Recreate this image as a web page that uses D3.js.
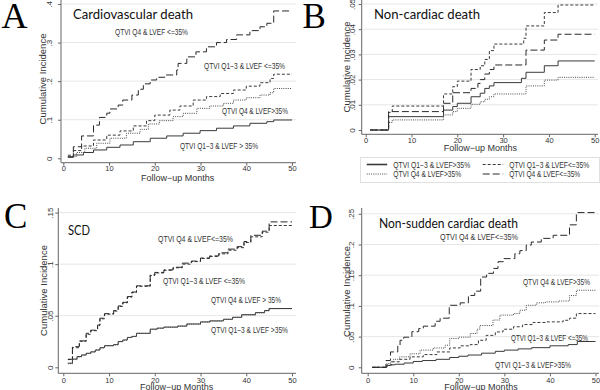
<!DOCTYPE html>
<html>
<head>
<meta charset="utf-8">
<script src="https://cdn.jsdelivr.net/npm/d3@7"></script>
<style>
  body { margin: 0; background: #fff; }
  svg { display: block; }
</style>
</head>
<body>
<script>
// ---- data: [month, cumulative incidence] step points ----
const monthTicks = [0, 10, 20, 30, 40, 50];

const groupNames = ['QTVI Q1\u22123 & LVEF>35%', 'QTVI Q1\u22123 & LVEF<=35%', 'QTVI Q4 & LVEF>35%', 'QTVI Q4 & LVEF<=35%'];

// A: cardiovascular death
const cvdTicks = [0, .1, .2, .3, .4];
const cvdTickLabels = ['0', '.1', '.2', '.3', '.4'];
const cvdQ13High = [[1,.0026],[2.2,.0086],[4.4,.015],[6.6,.0216],[9.5,.0285],[12.4,.0345],[15.3,.043],[19,.052],[22.6,.058],[26.2,.065],[29.9,.0717],[33.5,.078],[37.2,.084],[40.8,.0907],[44.5,.095],[46,.0993],[50,.0993]];
const cvdQ13Low = [[1,.008],[2.2,.02],[4,.032],[6.6,.0475],[9.5,.06],[12.4,.071],[15.3,.084],[18.2,.0976],[20,.112],[23.3,.125],[25.5,.1356],[28.4,.151],[31.3,.16],[34.3,.168],[37.2,.177],[40,.187],[43,.196],[45.2,.207],[46,.218],[50,.218]];
const cvdQ4High = [[1,.004],[2.9,.015],[4.7,.026],[7.3,.039],[10.2,.052],[13.8,.065],[16.8,.075],[18.6,.089],[21,.0976],[24,.108],[26.2,.1166],[29.2,.1295],[32,.1356],[35,.1425],[37.2,.151],[40,.157],[43,.164],[45.2,.17],[46,.181],[50,.181]];
const cvdQ4Low = [[1,.004],[2.2,.03],[4,.058],[6.6,.086],[7.9,.106],[9.5,.117],[10.2,.128],[12,.138],[13,.151],[15,.164],[16.4,.179],[17.5,.193],[19,.203],[20.4,.21],[22.2,.216],[24.8,.229],[25.1,.246],[27,.263],[29,.276],[31.3,.289],[33.5,.3],[35.7,.308],[37.9,.32],[40.8,.331],[43,.341],[44.5,.35],[46,.382],[50,.382]];
const cvdLabels = ['QTVI Q1\u22123 & LVEF > 35%', 'QTVI Q1\u22123 & LVEF <=35%', 'QTVI Q4 & LVEF>35%', 'QTVI Q4 & LVEF <=35%'];

// B: non-cardiac death
const ncdTicks = [0, .01, .02, .03, .04, .05];
const ncdTickLabels = ['0', '.01', '.02', '.03', '.04', '.05'];
const ncdQ13High = [[1,0],[5,.0053],[17,.0079],[19,.0093],[20,.0106],[23,.0132],[25,.0146],[26,.0165],[27,.0175],[28,.0188],[34,.0205],[35,.0229],[39,.0255],[42,.0274],[50,.0274]];
const ncdQ13Low = [[1,0],[5,.007],[5.8,.0095],[17,.0143],[19,.0172],[20,.0194],[23,.024],[25,.0255],[26,.028],[27,.0315],[28,.0341],[34.5,.0364],[35,.0413],[39,.0466],[42,.0496],[50,.0496]];
const ncdQ4High = [[1,0],[5,.003],[5.8,.004],[17,.006],[19,.0073],[20,.0086],[23,.0102],[25,.0112],[26,.0122],[27,.0132],[28,.0143],[35,.0175],[39,.0198],[42,.0209],[50,.0209]];
const ncdQ4Low = [[1,0],[5,.0073],[17,.0106],[19,.0148],[23,.0165],[24.5,.0185],[25,.02],[26,.0222],[27,.024],[28,.0258],[35,.0317],[39,.0357],[42,.038],[50,.038]];

// C: sudden cardiac death
const scdTicks = [0, .05, .1, .15];
const scdTickLabels = ['0', '.05', '.1', '.15'];
const scdQ13High = [[1,.004],[2,.008],[3,.0104],[4,.012],[5,.0136],[6,.015],[7,.0168],[8,.019],[9,.021],[11,.022],[12,.025],[13,.0265],[14,.029],[15,.03],[16,.033],[19,.037],[20.5,.038],[22,.039],[25,.04],[27,.042],[30,.044],[32,.045],[35,.0466],[37,.0485],[39,.051],[42,.053],[44,.055],[45,.057],[50,.057]];
const scdQ13Low = [[1,.0075],[2,.019],[3.5,.0252],[5,.032],[6,.0355],[7.5,.0405],[8,.047],[9,.0515],[11,.0545],[12,.059],[13,.0625],[14,.068],[15,.0725],[16,.0785],[19,.089],[20,.0915],[22,.094],[24,.0965],[26,.1],[28,.1025],[30,.1055],[32,.1075],[34,.11],[36,.1135],[38,.116],[39.5,.121],[41,.1265],[43.5,.131],[45,.1375],[50,.1375]];
const scdQ4High = [[1,.0035],[2,.0075],[3,.01],[4,.0118],[5,.0134],[6,.0148],[7,.0166],[8,.0188],[9,.0208],[11,.0218],[12,.0248],[13,.0262],[14,.0288],[15,.0298],[16,.0328],[19,.0368],[20.5,.0378],[22,.0388],[25,.0398],[27,.0418],[30,.0438],[32,.0448],[35,.0464],[37,.0483],[39,.0508],[42,.0528],[44,.0548],[45,.0568],[50,.0568]];
const scdQ4Low = [[1,.0078],[2,.02],[3.5,.0256],[5,.033],[6,.036],[7.5,.041],[8,.0476],[9,.052],[11,.055],[12,.0595],[13,.063],[14,.0686],[15,.073],[16,.079],[19,.0896],[20,.092],[22,.0945],[24,.097],[26,.101],[28,.103],[30,.106],[32,.108],[34,.111],[36,.1146],[38,.117],[39.5,.122],[41,.128],[43.5,.132],[45,.141],[50,.141]];
const scdLabels = ['QTVI Q1\u22123 & LVEF >35%', 'QTVI Q1\u22123 & LVEF <=35%', 'QTVI Q4 & LVEF > 35%', 'QTVI Q4 & LVEF<=35%'];

// D: non-sudden cardiac death
const nscdTicks = [0, .05, .1, .15, .2, .25];
const nscdTickLabels = ['0', '.05', '.1', '.15', '.2', '.25'];
const nscdQ13High = [[1,0],[4.2,.003],[5,.004],[6,.005],[8,.007],[10,.0095],[12,.011],[15,.013],[18,.016],[20,.018],[22,.02],[25,.023],[28,.026],[30,.028],[33,.03],[36,.032],[40,.035],[44,.037],[46,.042],[50,.042]];
const nscdQ13Low = [[1,0],[4.2,.004],[5.3,.009],[7,.013],[9.3,.017],[12.2,.0207],[15.2,.025],[18,.0315],[20.3,.035],[22.5,.037],[24.3,.044],[26,.052],[28,.0576],[29.7,.062],[32,.066],[34,.0696],[36.3,.073],[39,.074],[42.9,.0766],[44.3,.08],[45.8,.0875],[50,.0875]];
const nscdQ4High = [[1,0],[4.2,.006],[5,.009],[5.7,.013],[7,.017],[9.3,.022],[11.5,.028],[14.4,.0315],[17,.036],[18,.047],[20,.049],[22.5,.055],[24,.062],[24.6,.068],[27.5,.077],[29,.085],[32,.0875],[33.4,.093],[34.8,.101],[37,.105],[39,.1065],[42,.108],[44.3,.117],[45.8,.1255],[50,.1255]];
const nscdQ4Low = [[1,0],[4,.011],[5,.025],[6.6,.036],[7.1,.044],[7.9,.049],[9.7,.058],[11.2,.063],[12.2,.067],[14.8,.075],[15.9,.08],[17.9,.101],[20.3,.105],[22.1,.117],[23.5,.124],[24.8,.147],[26.1,.153],[27.6,.161],[28.6,.172],[29.9,.177],[32.3,.185],[33.4,.19],[34.8,.199],[35.9,.204],[38.1,.21],[40.7,.215],[44.3,.232],[45.8,.252],[50,.252]];
const nscdLabels = ['QTVI Q1\u22123 & LVEF>35%', 'QTVI Q1\u22123 & LVEF <=35%', 'QTVI Q4 & LVEF>35%', 'QTVI Q4 & LVEF<=35%'];

// ---- drawing ----
const smallFont = "'Liberation Sans Narrow','Arial Narrow','Liberation Sans',Arial,sans-serif";

// same order as groupNames
const lineStyles = [
    { dash: null,    color: '#3a3a3a' },
    { dash: '3,2',   color: '#3a3a3a' },
    { dash: '1,1.2', color: '#4a4a4a' },
    { dash: '7,3',   color: '#2a2a2a' }
];

const svg = d3.select('body').append('svg')
    .attr('width', 600)
    .attr('height', 390);

function drawPanel(p) {
    const g = svg.append('g');

    const x = d3.scaleLinear().domain([0, 50]).range(p.xRange);
    const y = d3.scaleLinear().domain([0, p.yMax]).range(p.yRange);

    // grid lines
    g.selectAll('line.grid')
        .data(p.yTicks.filter(t => t > 0))
        .enter()
        .append('line')
        .attr('class', 'grid')
        .attr('x1', p.axisX + 1)
        .attr('x2', p.right)
        .attr('y1', d => y(d))
        .attr('y2', d => y(d))
        .attr('stroke', '#e6e6e6')
        .attr('stroke-width', 1);

    // axis lines sit a bit outside the data range (Stata style)
    g.append('line')
        .attr('x1', p.axisX).attr('x2', p.axisX)
        .attr('y1', p.top).attr('y2', p.axisY)
        .attr('stroke', '#666');
    g.append('line')
        .attr('x1', p.axisX).attr('x2', p.right)
        .attr('y1', p.axisY).attr('y2', p.axisY)
        .attr('stroke', '#666');

    const yAxis = g.append('g')
        .attr('transform', `translate(${p.axisX},0)`)
        .call(d3.axisLeft(y)
            .tickValues(p.yTicks)
            .tickFormat((d, i) => p.yTickLabels[i])
            .tickSize(3)
            .tickSizeOuter(0));
    yAxis.select('.domain').remove();
    yAxis.selectAll('line').attr('stroke', '#666');
    yAxis.selectAll('text')
        .attr('transform', 'rotate(-90)')
        .attr('x', 0)
        .attr('y', -(p.yLabOff - 3))
        .attr('dy', 0)
        .style('text-anchor', 'middle')
        .style('font-family', smallFont)
        .style('font-size', '8px')
        .attr('fill', '#333');

    const xAxis = g.append('g')
        .attr('transform', `translate(0,${p.axisY})`)
        .call(d3.axisBottom(x)
            .tickValues(monthTicks)
            .tickSize(3)
            .tickSizeOuter(0));
    xAxis.select('.domain').remove();
    xAxis.selectAll('line').attr('stroke', '#666');
    xAxis.selectAll('text')
        .attr('y', p.xLabY - p.axisY)
        .attr('dy', 0)
        .style('font-family', smallFont)
        .style('font-size', '7.5px')
        .attr('fill', '#333');

    // axis titles
    g.append('text')
        .attr('transform', `translate(${p.yTitle[0] + 3.5},${p.yTitle[1]}) rotate(-90)`)
        .style('text-anchor', 'middle')
        .style('font-family', smallFont)
        .style('font-size', '9.5px')
        .attr('fill', '#333')
        .text('Cumulative Incidence');

    g.append('text')
        .attr('x', p.xTitle[0])
        .attr('y', p.xTitle[1])
        .style('text-anchor', 'middle')
        .style('font-family', smallFont)
        .style('font-size', '9px')
        .attr('fill', '#333')
        .text('Follow\u2212up Months');

    // curves
    const line = d3.line()
        .x(d => x(d[0]))
        .y(d => y(d[1]))
        .curve(d3.curveStepAfter);

    p.series.forEach((s, i) => {
        g.append('path')
            .datum(s)
            .attr('d', line)
            .attr('fill', 'none')
            .attr('stroke', lineStyles[i].color)
            .attr('stroke-width', 1)
            .attr('stroke-dasharray', lineStyles[i].dash);
    });

    // curve annotations
    p.labelPos.forEach((pos, i) => {
        if (!pos) return;
        g.append('text')
            .attr('x', pos[0])
            .attr('y', pos[1])
            .attr('textLength', pos[2])
            .attr('lengthAdjust', 'spacingAndGlyphs')
            .style('font-family', smallFont)
            .style('font-size', '8.5px')
            .attr('fill', '#333')
            .text(p.labels[i]);
    });

    // panel title and letter
    g.append('text')
        .attr('x', p.title[0])
        .attr('y', p.title[1])
        .attr('textLength', p.title[2])
        .attr('lengthAdjust', 'spacingAndGlyphs')
        .style('font-family', "Lato, 'Open Sans', sans-serif")
        .style('font-size', '13.5px')
        .attr('fill', '#111')
        .text(p.titleText);

    g.append('text')
        .attr('x', p.letter[0])
        .attr('y', p.letter[1])
        .style('font-family', "'Liberation Serif', 'DejaVu Serif', serif")
        .style('font-size', p.letter[2] + 'px')
        .attr('fill', '#000')
        .text(p.letterText);
}

drawPanel({
    letterText: 'A', letter: [1.5, 28, 36],
    titleText: 'Cardiovascular death', title: [73, 19, 120],
    xRange: [63.3, 292], yRange: [158.3, 4], yMax: 0.4,
    yTicks: cvdTicks, yTickLabels: cvdTickLabels,
    axisX: 61, axisY: 162.7, right: 296, top: 0,
    yLabOff: 12, xLabY: 171, yTitle: [42.7, 79], xTitle: [177.7, 180.5],
    series: [cvdQ13High, cvdQ13Low, cvdQ4High, cvdQ4Low],
    labels: cvdLabels,
    labelPos: [[180, 149, 78], [204, 69, 81], [222, 114, 66], [115, 35, 73]]
});

drawPanel({
    letterText: 'B', letter: [302.5, 28, 35],
    titleText: 'Non-cardiac death', title: [374, 19, 106],
    xRange: [365.7, 594.7], yRange: [130, 4], yMax: 0.05,
    yTicks: ncdTicks, yTickLabels: ncdTickLabels,
    axisX: 361.7, axisY: 134.3, right: 598, top: 0,
    yLabOff: 10, xLabY: 143, yTitle: [346.7, 67], xTitle: [480.3, 151],
    series: [ncdQ13High, ncdQ13Low, ncdQ4High, ncdQ4Low],
    labels: groupNames,
    labelPos: [null, null, null, null]
});

drawPanel({
    letterText: 'C', letter: [4, 228, 35],
    titleText: 'SCD', title: [68, 235, 22],
    xRange: [63.3, 292], yRange: [367.3, 212.6], yMax: 0.15,
    yTicks: scdTicks, yTickLabels: scdTickLabels,
    axisX: 58.3, axisY: 373.3, right: 296, top: 208,
    yLabOff: 8.5, xLabY: 383, yTitle: [43.3, 290.5], xTitle: [176.7, 390],
    series: [scdQ13High, scdQ13Low, scdQ4High, scdQ4Low],
    labels: scdLabels,
    labelPos: [[211, 333, 77], [163, 284, 82], [211, 303, 70], [158, 241.5, 75]]
});

drawPanel({
    letterText: 'D', letter: [309, 228, 33],
    titleText: 'Non-sudden cardiac death', title: [379, 228, 139],
    xRange: [367.7, 595.5], yRange: [367.3, 213.8], yMax: 0.25,
    yTicks: nscdTicks, yTickLabels: nscdTickLabels,
    axisX: 361.7, axisY: 373.3, right: 599, top: 208,
    yLabOff: 11, xLabY: 383, yTitle: [346.7, 291.5], xTitle: [481, 390],
    series: [nscdQ13High, nscdQ13Low, nscdQ4High, nscdQ4Low],
    labels: nscdLabels,
    labelPos: [[495, 368, 76], [511, 341, 77], [523, 285, 67], [440, 240, 78]]
});

// legend under panel B
const legend = svg.append('g');
legend.append('rect')
    .attr('x', 360.5).attr('y', 157.5)
    .attr('width', 239).attr('height', 25)
    .attr('fill', 'none')
    .attr('stroke', '#e0e0e0');

const legendPos = [[366.7, 167.5, 77], [482.7, 167.5, 80], [366.7, 177, 68], [482.7, 177, 71]];
groupNames.forEach((name, i) => {
    const [lx, ly, lw] = legendPos[i];
    legend.append('line')
        .attr('x1', lx).attr('x2', lx + 20.5)
        .attr('y1', ly - 3).attr('y2', ly - 3)
        .attr('stroke', lineStyles[i].color)
        .attr('stroke-width', i === 0 ? 1.6 : 1)
        .attr('stroke-dasharray', lineStyles[i].dash);
    legend.append('text')
        .attr('x', lx + 26.5)
        .attr('y', ly)
        .attr('textLength', lw)
        .attr('lengthAdjust', 'spacingAndGlyphs')
        .style('font-family', smallFont)
        .style('font-size', '8.5px')
        .attr('fill', '#333')
        .text(name);
});
</script>
</body>
</html>
